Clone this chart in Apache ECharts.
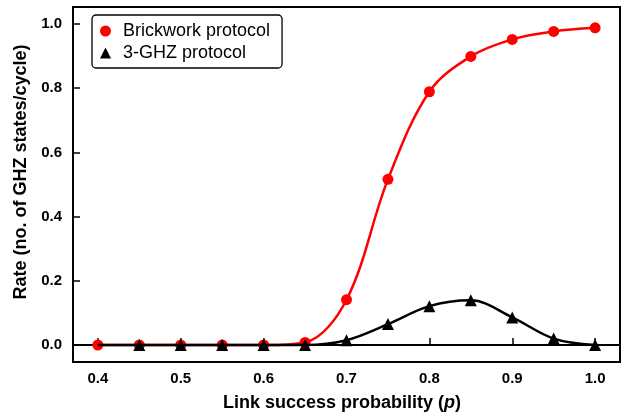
<!DOCTYPE html>
<html>
<head>
<meta charset="utf-8">
<script src="https://cdn.jsdelivr.net/npm/echarts@6/dist/echarts.min.js"></script>
<style>html,body{margin:0;padding:0;background:#fff}#c{width:625px;height:417px}</style>
</head>
<body>
<div id="c"></div>
<script>
var pValues = [0.4, 0.45, 0.5, 0.55, 0.6, 0.65, 0.7, 0.75, 0.8, 0.85, 0.9, 0.95, 1.0];
var brickwork = [0, 0, 0, 0, 0, 0.008, 0.141, 0.516, 0.789, 0.899, 0.952, 0.977, 0.988];
var ghz3 = [0, 0, 0, 0, 0, 0, 0.015, 0.065, 0.121, 0.139, 0.086, 0.02, 0.0];
var xTicks = [0.4, 0.5, 0.6, 0.7, 0.8, 0.9, 1.0];
var yTicks = [0.0, 0.2, 0.4, 0.6, 0.8, 1.0];

var FONT = 'Liberation Sans, Arial, sans-serif';
var chart = echarts.init(document.getElementById('c'), null, {renderer: 'canvas'});
function pairs(xs, ys) { return xs.map(function (x, i) { return [x, ys[i]]; }); }
var ghzData = pairs(pValues, ghz3).map(function (d, i) {
  return i === 0 ? {value: d, symbol: 'none'} : d;
});
chart.setOption({
  animation: false,
  backgroundColor: '#fff',
  grid: {left: 73, right: 5, top: 7, bottom: 54, show: true, borderColor: '#000', borderWidth: 2, backgroundColor: 'transparent'},
  legend: {
    left: 92, top: 15, orient: 'vertical',
    borderColor: '#000', borderWidth: 1.3, borderRadius: 4,
    padding: [7, 12, 6, 8], itemGap: 4,
    itemWidth: 11, itemHeight: 11,
    textStyle: {fontFamily: FONT, fontSize: 18, color: '#000', padding: [0, 0, 0, 7]},
    data: [{name: 'Brickwork protocol', icon: 'circle'}, {name: '3-GHZ protocol', icon: 'triangle'}]
  },
  xAxis: {
    type: 'value', min: 0.37, max: 1.03,
    name: '{a|Link success probability (}{b|p}{a|)}', nameLocation: 'middle', nameGap: 32,
    nameTextStyle: {padding: [0, 9, 0, 0], rich: {a: {fontFamily: FONT, fontSize: 18, fontWeight: 'bold', color: '#000'}, b: {fontFamily: FONT, fontSize: 18, fontWeight: 'bold', fontStyle: 'italic', color: '#000'}}},
    axisLine: {show: true, lineStyle: {color: '#000', width: 2}},
    axisTick: {show: true, inside: true, length: 7, customValues: xTicks, lineStyle: {color: '#000', width: 1.5}},
    axisLabel: {customValues: xTicks, margin: 9, fontFamily: FONT, fontSize: 15, fontWeight: 'bold', color: '#000', formatter: function (v) { return v.toFixed(1); }},
    splitLine: {show: false}
  },
  yAxis: {
    type: 'value', min: -0.053, max: 1.053,
    name: 'Rate (no. of GHZ states/cycle)', nameLocation: 'middle', nameGap: 36,
    nameTextStyle: {fontFamily: FONT, fontSize: 18, fontWeight: 'bold', color: '#000', padding: [0, 0, 0, 25]},
    axisLine: {show: true, lineStyle: {color: '#000', width: 2}},
    axisTick: {show: true, inside: true, length: 7, customValues: yTicks, lineStyle: {color: '#000', width: 1.5}},
    axisLabel: {customValues: yTicks, margin: 11, fontFamily: FONT, fontSize: 15, fontWeight: 'bold', color: '#000', formatter: function (v) { return v.toFixed(1); }},
    splitLine: {show: false}
  },
  series: [
    {
      name: 'Brickwork protocol', type: 'line', smooth: 0.35,
      data: pairs(pValues, brickwork),
      symbol: 'circle', symbolSize: 11,
      lineStyle: {color: '#ff0000', width: 2.5},
      itemStyle: {color: '#ff0000'}, z: 2
    },
    {
      name: '3-GHZ protocol', type: 'line', smooth: 0.35,
      data: ghzData,
      symbol: 'triangle', symbolSize: 12,
      lineStyle: {color: '#000', width: 2.5},
      itemStyle: {color: '#000'}, z: 3
    }
  ]
});
</script>
</body>
</html>
